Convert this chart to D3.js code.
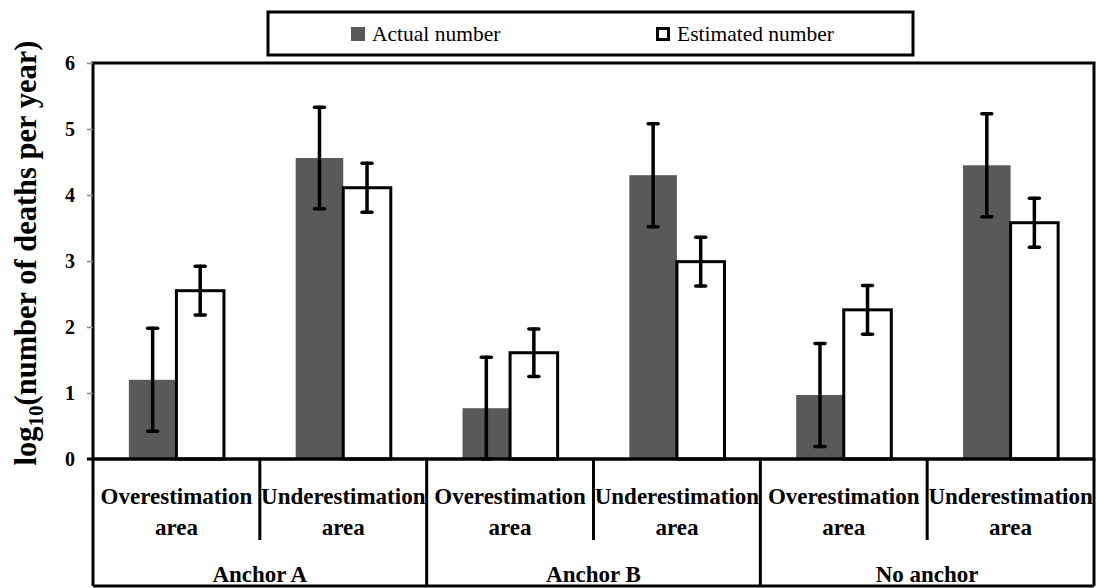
<!DOCTYPE html>
<html>
<head>
<meta charset="utf-8">
<script src="https://cdn.jsdelivr.net/npm/d3@7"></script>
<style>
  body { margin: 0; background: #fff; }
  svg { display: block; font-family: "Liberation Serif", "Times New Roman", serif; }
</style>
</head>
<body>
<div id="chart"></div>
<script>
// data
var groups = ["Anchor A", "Anchor B", "No anchor"];
var areas = ["Overestimation area", "Underestimation area"];
var actual = [1.20, 4.56, 0.77, 4.30, 0.97, 4.45];
var actualErr = [0.78, 0.77, 0.77, 0.78, 0.78, 0.78];
var estimated = [2.55, 4.11, 1.61, 2.99, 2.26, 3.58];
var estimatedErr = [0.37, 0.37, 0.36, 0.37, 0.37, 0.37];
var seriesNames = ["Actual number", "Estimated number"];
var yTicks = [0, 1, 2, 3, 4, 5, 6];

var chartWidth = 1097, chartHeight = 588;
var plotLeft = 93, plotRight = 1094, plotTop = 63, plotBottom = 459, tableBottom = 586;
var dark = "#595959";

var cells = [];
groups.forEach(function(g, gi) {
  areas.forEach(function(a, ai) {
    var i = gi * 2 + ai;
    cells.push({ i: i, group: g, area: a,
      vals: [
        { s: 0, v: actual[i], e: actualErr[i] },
        { s: 1, v: estimated[i], e: estimatedErr[i] }
      ] });
  });
});

var svg = d3.select("#chart").append("svg")
  .attr("width", chartWidth)
  .attr("height", chartHeight);

var x = d3.scaleBand()
  .domain(d3.range(cells.length))
  .range([plotLeft, plotRight])
  .paddingInner(0.43)
  .paddingOuter(0.215);

var xs = d3.scaleBand()
  .domain([0, 1])
  .range([0, x.bandwidth()]);

var y = d3.scaleLinear()
  .domain([0, 6])
  .range([plotBottom, plotTop]);

// bars
var cell = svg.selectAll(".cell")
  .data(cells)
  .enter().append("g")
  .attr("class", "cell")
  .attr("transform", function(d) { return "translate(" + x(d.i) + ",0)"; });

cell.selectAll("rect")
  .data(function(d) { return d.vals; })
  .enter().append("rect")
  .attr("x", function(d) { return xs(d.s); })
  .attr("y", function(d) { return y(d.v); })
  .attr("width", xs.bandwidth())
  .attr("height", function(d) { return y(0) - y(d.v); })
  .style("fill", function(d) { return d.s == 0 ? dark : "#fff"; })
  .style("stroke", function(d) { return d.s == 0 ? "none" : "#000"; })
  .style("stroke-width", 3);

// error bars
var err = cell.selectAll(".err")
  .data(function(d) { return d.vals; })
  .enter().append("g")
  .attr("class", "err")
  .attr("transform", function(d) { return "translate(" + (xs(d.s) + xs.bandwidth() / 2) + ",0)"; })
  .style("stroke", "#000")
  .style("stroke-width", 3.5)
  .style("stroke-linecap", "round");

err.append("line")
  .attr("y1", function(d) { return y(d.v + d.e); })
  .attr("y2", function(d) { return y(Math.max(0, d.v - d.e)); });
err.append("line")
  .attr("x1", -5).attr("x2", 5)
  .attr("y1", function(d) { return y(d.v + d.e); })
  .attr("y2", function(d) { return y(d.v + d.e); });
err.append("line")
  .attr("x1", -5).attr("x2", 5)
  .attr("y1", function(d) { return y(Math.max(0, d.v - d.e)); })
  .attr("y2", function(d) { return y(Math.max(0, d.v - d.e)); });

// plot frame
svg.append("rect")
  .attr("x", plotLeft).attr("y", plotTop)
  .attr("width", plotRight - plotLeft).attr("height", plotBottom - plotTop)
  .style("fill", "none")
  .style("stroke", "#000")
  .style("stroke-width", 3);

// y axis
var yAxis = svg.append("g")
  .attr("transform", "translate(" + plotLeft + ",0)")
  .call(d3.axisLeft(y).tickValues(yTicks).tickSize(6).tickPadding(12).tickFormat(d3.format("d")));
yAxis.select(".domain").remove();
yAxis.selectAll(".tick line").style("stroke", "#888").style("stroke-width", 1.5);
yAxis.selectAll("text")
  .style("font-family", "'Liberation Serif', serif")
  .style("font-size", "20px")
  .style("font-weight", "bold")
  .attr("fill", "#000");

// category table
var table = svg.append("g").style("stroke", "#000").style("stroke-width", 3);
table.append("line").attr("x1", plotLeft - 6).attr("x2", plotRight).attr("y1", plotBottom).attr("y2", plotBottom);
table.append("line").attr("x1", plotLeft).attr("x2", plotRight).attr("y1", tableBottom).attr("y2", tableBottom);
var edges = d3.range(cells.length + 1).map(function(k) { return plotLeft + k * x.step(); });
table.selectAll(".div")
  .data(edges)
  .enter().append("line")
  .attr("x1", function(d) { return d; })
  .attr("x2", function(d) { return d; })
  .attr("y1", plotBottom)
  .attr("y2", function(d, k) { return k % 2 == 0 ? tableBottom : 540; });

var labels = svg.append("g")
  .style("font-family", "'Liberation Serif', serif")
  .style("font-size", "23px")
  .style("font-weight", "bold")
  .attr("text-anchor", "middle");

labels.selectAll(".area")
  .data(cells)
  .enter().append("text")
  .attr("y", 504)
  .each(function(d) {
    var cx = x(d.i) + x.bandwidth() / 2;
    var parts = d.area.split(" ");
    d3.select(this).append("tspan").attr("x", cx).text(parts[0]);
    d3.select(this).append("tspan").attr("x", cx).attr("dy", 31).text(parts[1]);
  });

labels.selectAll(".group")
  .data(groups)
  .enter().append("text")
  .attr("x", function(d, gi) { return (x(gi * 2) + x(gi * 2 + 1) + x.bandwidth()) / 2; })
  .attr("y", 582)
  .text(function(d) { return d; });

// y title
var title = svg.append("text")
  .attr("transform", "translate(36,253) rotate(-90)")
  .attr("text-anchor", "middle")
  .style("font-size", "30.5px")
  .style("font-weight", "bold");
title.append("tspan").text("log");
title.append("tspan").attr("dy", 7).style("font-size", "21px").text("10");
title.append("tspan").attr("dy", -7).text("(number of deaths per year)");

// legend
var legend = svg.append("g");
legend.append("rect")
  .attr("x", 268).attr("y", 12)
  .attr("width", 645).attr("height", 43)
  .style("fill", "#fff")
  .style("stroke", "#000")
  .style("stroke-width", 3);

var legX = [351, 656];
var item = legend.selectAll(".item")
  .data(seriesNames)
  .enter().append("g")
  .attr("transform", function(d, k) { return "translate(" + legX[k] + ",27)"; });
item.append("rect")
  .attr("x", function(d, k) { return k == 0 ? 0 : 1.5; })
  .attr("y", function(d, k) { return k == 0 ? 0 : 1.5; })
  .attr("width", function(d, k) { return k == 0 ? 14 : 11; })
  .attr("height", function(d, k) { return k == 0 ? 14 : 11; })
  .style("fill", function(d, k) { return k == 0 ? dark : "#fff"; })
  .style("stroke", function(d, k) { return k == 0 ? "none" : "#000"; })
  .style("stroke-width", 3);
item.append("text")
  .attr("x", function(d, k) { return k == 0 ? 21 : 21; })
  .attr("y", 14)
  .style("font-size", "21.5px")
  .text(function(d) { return d; });
</script>
</body>
</html>
